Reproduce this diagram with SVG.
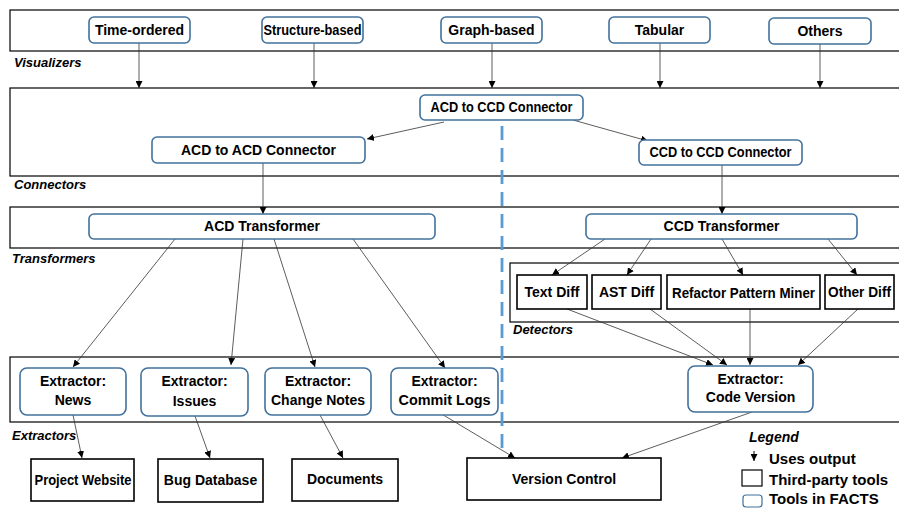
<svg xmlns="http://www.w3.org/2000/svg" width="899" height="508" viewBox="0 0 899 508">
<defs>
<marker id="ah" viewBox="0 0 10 10" refX="10" refY="5" markerWidth="7" markerHeight="7" markerUnits="userSpaceOnUse" orient="auto"><path d="M0,0 L10,5 L0,10 z" fill="#000"/></marker>
<style>
.band{fill:none;stroke:#000;stroke-width:1.2}
.fn rect{fill:#fff;stroke:#41719c;stroke-width:1.6}
.tp rect{fill:#fff;stroke:#000;stroke-width:1.6}
text{font-family:"Liberation Sans",Arial,sans-serif;font-weight:bold;font-size:14px;fill:#000}
.lab{font-style:italic;font-size:13px}
.c{text-anchor:middle}
.e line{stroke:#333;stroke-width:0.8;marker-end:url(#ah)}
</style>
</defs>
<rect width="899" height="508" fill="#fff"/>
<g id="bands">
<rect class="band" x="10" y="10" width="900" height="41"/>
<rect class="band" x="10" y="88" width="900" height="88"/>
<rect class="band" x="10" y="207" width="900" height="41"/>
<rect class="band" x="510" y="263" width="400" height="59"/>
<rect class="band" x="10" y="357" width="900" height="65"/>
<text class="lab" x="14" y="67">Visualizers</text>
<text class="lab" x="14" y="189">Connectors</text>
<text class="lab" x="12" y="263">Transformers</text>
<text class="lab" x="513" y="334">Detectors</text>
<text class="lab" x="12" y="440">Extractors</text>
</g>
<line x1="502" y1="126" x2="502" y2="454" stroke="#5b9bd5" stroke-width="2.8" stroke-dasharray="14,8"/>
<g class="e" id="connectors">
<line x1="139" y1="43" x2="139" y2="88"/>
<line x1="314" y1="43" x2="314" y2="88"/>
<line x1="492" y1="43" x2="492" y2="88"/>
<line x1="660" y1="43" x2="660" y2="88"/>
<line x1="820" y1="44" x2="820" y2="88"/>
<line x1="444" y1="122" x2="367" y2="139"/>
<line x1="573" y1="120" x2="648" y2="141"/>
<line x1="263" y1="163" x2="263" y2="214"/>
<line x1="722" y1="165" x2="722" y2="214"/>
<line x1="605" y1="239" x2="552" y2="275"/>
<line x1="651" y1="239" x2="627" y2="275"/>
<line x1="722" y1="239" x2="743" y2="275"/>
<line x1="828" y1="239" x2="857" y2="275"/>
<line x1="175" y1="239" x2="73" y2="367"/>
<line x1="243" y1="239" x2="231" y2="365"/>
<line x1="274" y1="239" x2="315" y2="367"/>
<line x1="353" y1="239" x2="445" y2="368"/>
<line x1="567" y1="309" x2="713" y2="365"/>
<line x1="650" y1="309" x2="727" y2="365"/>
<line x1="750" y1="309" x2="750" y2="365"/>
<line x1="858" y1="309" x2="798" y2="365"/>
<line x1="73" y1="415" x2="82" y2="458"/>
<line x1="195" y1="416" x2="210" y2="458"/>
<line x1="320" y1="415" x2="343" y2="458"/>
<line x1="440" y1="413" x2="515" y2="458"/>
<line x1="752" y1="412" x2="622" y2="458"/>
</g>
<g id="time-ordered" class="fn"><rect x="89" y="17" width="101" height="26" rx="5"/><text class="c" x="139.5" y="35">Time-ordered</text></g>
<g id="structure-based" class="fn"><rect x="262" y="17" width="101" height="26" rx="5"/><text class="c" x="312.5" y="35" textLength="98" lengthAdjust="spacingAndGlyphs">Structure-based</text></g>
<g id="graph-based" class="fn"><rect x="441" y="17" width="101" height="26" rx="5"/><text class="c" x="491.5" y="35">Graph-based</text></g>
<g id="tabular" class="fn"><rect x="609" y="17" width="101" height="26" rx="5"/><text class="c" x="659.5" y="35">Tabular</text></g>
<g id="others" class="fn"><rect x="769" y="18" width="102" height="26" rx="5"/><text class="c" x="820" y="36">Others</text></g>
<g id="acd-ccd" class="fn"><rect x="420" y="95" width="163" height="25" rx="5"/><text class="c" x="501.5" y="112" textLength="142" lengthAdjust="spacingAndGlyphs">ACD to CCD Connector</text></g>
<g id="acd-acd" class="fn"><rect x="152" y="137" width="213" height="26" rx="5"/><text class="c" x="258.5" y="155">ACD to ACD Connector</text></g>
<g id="ccd-ccd" class="fn"><rect x="639" y="140" width="163" height="25" rx="5"/><text class="c" x="720.5" y="157" textLength="142" lengthAdjust="spacingAndGlyphs">CCD to CCD Connector</text></g>
<g id="acd-transformer" class="fn"><rect x="89" y="214" width="346" height="25" rx="5"/><text class="c" x="262" y="231">ACD Transformer</text></g>
<g id="ccd-transformer" class="fn"><rect x="586" y="214" width="271" height="25" rx="5"/><text class="c" x="721.5" y="231">CCD Transformer</text></g>
<g id="text-diff" class="tp"><rect x="517" y="275" width="70" height="34"/><text class="c" x="552" y="297">Text Diff</text></g>
<g id="ast-diff" class="tp"><rect x="592" y="275" width="69" height="34"/><text class="c" x="626.5" y="297">AST Diff</text></g>
<g id="refactor" class="tp"><rect x="667" y="275" width="153" height="34"/><text class="c" x="743.5" y="298" textLength="143" lengthAdjust="spacingAndGlyphs">Refactor Pattern Miner</text></g>
<g id="other-diff" class="tp"><rect x="825" y="275" width="69" height="34"/><text class="c" x="859.5" y="297" textLength="63" lengthAdjust="spacingAndGlyphs">Other Diff</text></g>
<g id="ex-news" class="fn"><rect x="20" y="368" width="106" height="47" rx="7"/><text class="c" x="73" y="386">Extractor:</text><text class="c" x="73" y="405">News</text></g>
<g id="ex-issues" class="fn"><rect x="141" y="368" width="107" height="48" rx="7"/><text class="c" x="194.5" y="386">Extractor:</text><text class="c" x="194.5" y="406">Issues</text></g>
<g id="ex-change" class="fn"><rect x="265" y="368" width="106" height="47" rx="7"/><text class="c" x="318" y="386">Extractor:</text><text class="c" x="318" y="405" textLength="94" lengthAdjust="spacingAndGlyphs">Change Notes</text></g>
<g id="ex-commit" class="fn"><rect x="391" y="368" width="107" height="47" rx="7"/><text class="c" x="444.5" y="386">Extractor:</text><text class="c" x="444.5" y="405" textLength="92" lengthAdjust="spacingAndGlyphs">Commit Logs</text></g>
<g id="ex-code" class="fn"><rect x="688" y="366" width="125" height="46" rx="7"/><text class="c" x="750.5" y="384">Extractor:</text><text class="c" x="750.5" y="402">Code Version</text></g>
<g id="project-website" class="tp"><rect x="31" y="459" width="103" height="42"/><text class="c" x="83" y="485" textLength="97" lengthAdjust="spacingAndGlyphs">Project Website</text></g>
<g id="bug-database" class="tp"><rect x="158" y="459" width="105" height="43"/><text class="c" x="210.5" y="485">Bug Database</text></g>
<g id="documents" class="tp"><rect x="292" y="459" width="106" height="42"/><text class="c" x="345" y="484">Documents</text></g>
<g id="version-control" class="tp"><rect x="467" y="458" width="194" height="42"/><text class="c" x="564" y="484">Version Control</text></g>
<g id="legend">
<text class="lab" x="749" y="442" style="font-size:14px">Legend</text>
<line x1="754" y1="451" x2="754" y2="461" stroke="#000" stroke-width="1" marker-end="url(#ah)"/>
<text x="769" y="464" style="font-size:15px">Uses output</text>
<rect x="742" y="470" width="20" height="16" fill="#fff" stroke="#000" stroke-width="1.2"/>
<text x="769" y="485" style="font-size:15px">Third-party tools</text>
<rect x="743" y="495" width="19" height="12" rx="3" fill="#fff" stroke="#41719c" stroke-width="1.2"/>
<text x="769" y="504" style="font-size:15px">Tools in FACTS</text>
</g>
</svg>
